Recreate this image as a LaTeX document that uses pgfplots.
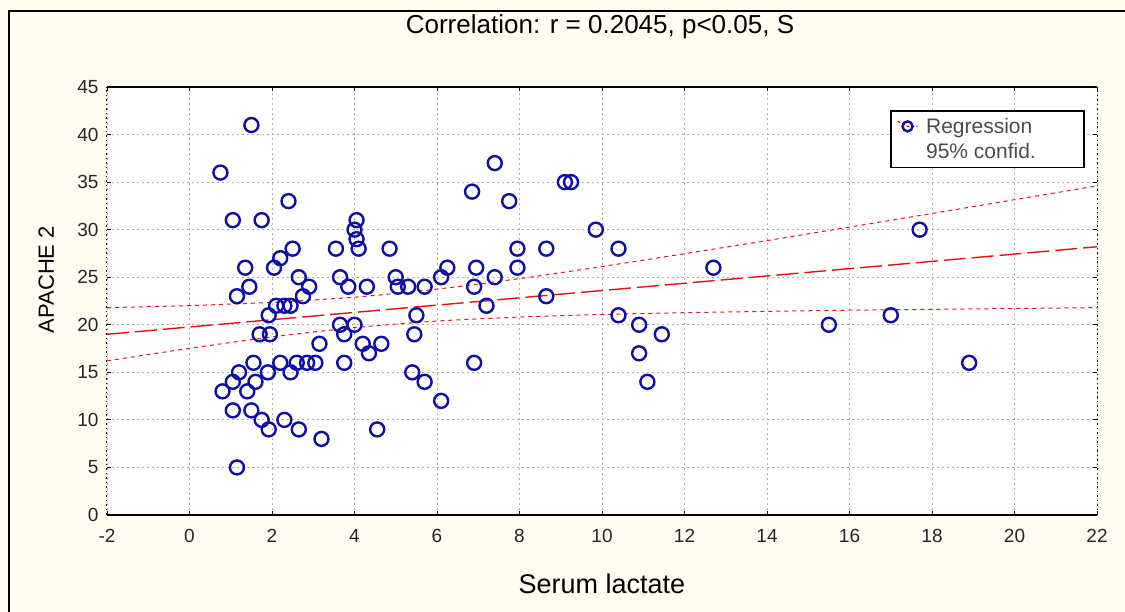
\documentclass[border=0pt]{standalone}
\usepackage{pgfplots}
\pgfplotsset{compat=1.18}
\usepackage{fontspec}
\setmainfont{Liberation Sans}
\definecolor{bg}{RGB}{255,253,240}
\definecolor{mk}{RGB}{15,15,165}
\definecolor{rl}{RGB}{225,20,20}
\definecolor{gridc}{RGB}{175,175,175}
\begin{document}
\begin{tikzpicture}[x=1pt,y=1pt]
\fill[bg] (0,0) rectangle (1125,612);
\useasboundingbox (0,0) rectangle (1125,612);
\draw[line width=2.5pt] (9,-2) -- (9,601) -- (1127,601);
\begin{axis}[
  at={(107pt,97pt)}, anchor=south west,
  scale only axis, width=990pt, height=428pt,
  xmin=-2, xmax=22, ymin=0, ymax=45,
  xtick={-2,0,...,22}, ytick={0,5,...,45},
  clip=false,
  axis background/.style={fill=white},
  axis line style={draw=none},
  grid=major,
  major grid style={gridc, dash pattern=on 2pt off 3pt, line width=0.8pt},
  tick style={black, line width=0.8pt}, tick align=inside, major tick length=4pt,
  /pgf/number format/assume math mode=true,
  ticklabel style={font=\fontsize{19}{19}\selectfont, text=black!85},
  xticklabel style={yshift=-11pt},
  yticklabel style={xshift=-5pt},
  title={Correlation: r = 0.2045, p<0.05, S},
  title style={font=\fontsize{26}{28}\selectfont, at={(0.498,1)}, anchor=base, yshift=47pt},
  xlabel={Serum lactate},
  ylabel={APACHE 2},
  xlabel style={font=\fontsize{27}{29}\selectfont, at={(0.5,0)}, anchor=base, yshift=-79pt},
  ylabel style={font=\fontsize{22}{24}\selectfont, at={(0,0.55)}, anchor=base, yshift=53pt},
  legend style={at={(0.791,0.946)}, anchor=north west, draw=black, line width=1.8pt,
    fill=white, font=\fontsize{21}{23}\selectfont, text=black!70,
    inner xsep=6pt, inner ysep=5pt, row sep=5pt,
    /tikz/every odd column/.append style={column sep=6pt}},
  legend cell align=left,
]
\addplot[only marks, mark=o, mark size=7pt, mark options={line width=2.4pt, draw=mk},
  legend image code/.code={
    \draw[rl, line width=1.2pt, dash pattern=on 3pt off 2pt] (-0.05cm,0.18cm) -- (0.3cm,0cm) -- (0.65cm,0cm);
    \draw[mk, line width=2pt] plot[mark=o, mark size=5pt] coordinates {(0.3cm,0cm)};
  }]
coordinates {
(0.75,36) (1.5,41) (2.4,33) (1.05,31) (1.75,31) (2.5,28) (2.2,27) (2.05,26)
(1.35,26) (2.65,25) (2.9,24) (1.45,24) (3.55,28) (3.65,25) (3.85,24) (4.05,31)
(4.0,30) (4.05,29) (4.1,28) (1.15,23) (2.75,23) (2.1,22) (2.3,22) (2.45,22)
(1.92,21) (1.7,19) (1.95,19) (3.65,20) (4.0,20) (3.75,19) (4.2,18) (3.15,18)
(3.75,16) (1.55,16) (2.2,16) (2.6,16) (2.85,16) (3.05,16) (2.45,15) (1.9,15)
(1.2,15) (1.6,14) (1.05,14) (1.4,13) (0.8,13) (1.05,11) (1.5,11) (1.75,10)
(1.92,9) (2.3,10) (2.65,9) (3.2,8) (1.15,5) (7.4,37) (6.85,34) (7.75,33)
(9.1,35) (9.25,35) (9.85,30) (4.85,28) (7.95,28) (8.65,28) (7.95,26) (6.25,26)
(6.1,25) (6.95,26) (7.4,25) (6.9,24) (5.0,25) (5.3,24) (5.7,24) (5.05,24)
(4.3,24) (8.65,23) (7.2,22) (5.5,21) (5.45,19) (4.35,17) (4.65,18) (5.4,15)
(5.7,14) (6.1,12) (6.9,16) (4.55,9) (10.4,28) (12.7,26) (17.7,30) (10.4,21)
(10.9,20) (11.45,19) (10.9,17) (11.1,14) (15.5,20) (17.0,21) (18.9,16)
};
\addlegendentry{Regression\hspace*{44pt}}
\addlegendimage{empty legend}
\addlegendentry{95\% confid.}
% regression line
\addplot[rl, line width=1.4pt, dash pattern=on 22pt off 6pt, forget plot] coordinates {(-2,19.00) (22,28.20)};
% confidence bands
\addplot[rl, line width=1pt, dash pattern=on 4pt off 4pt, smooth, forget plot] coordinates {
(-2,21.80) (0,22.02) (2,22.36) (4,22.90) (6,23.75) (8,24.85) (10,26.12) (12,27.47)
(14,28.85) (16,30.27) (18,31.70) (20,33.15) (22,34.60)};
\addplot[rl, line width=1pt, dash pattern=on 4pt off 4pt, smooth, forget plot] coordinates {
(-2,16.20) (0,17.52) (2,18.72) (4,19.70) (6,20.39) (8,20.81) (10,21.08) (12,21.27)
(14,21.41) (16,21.53) (18,21.62) (20,21.71) (22,21.80)};
\draw[black, line width=2pt] (rel axis cs:0,0) -- (rel axis cs:1,0);
\draw[black, line width=2pt] (rel axis cs:0,1) -- (rel axis cs:1,1);
\draw[black, line width=1pt, dash pattern=on 1.5pt off 3pt] (rel axis cs:0,0) -- (rel axis cs:0,1);
\draw[black, line width=1pt, dash pattern=on 1.5pt off 3pt] (rel axis cs:1,0) -- (rel axis cs:1,1);
\end{axis}
\end{tikzpicture}
\end{document}
